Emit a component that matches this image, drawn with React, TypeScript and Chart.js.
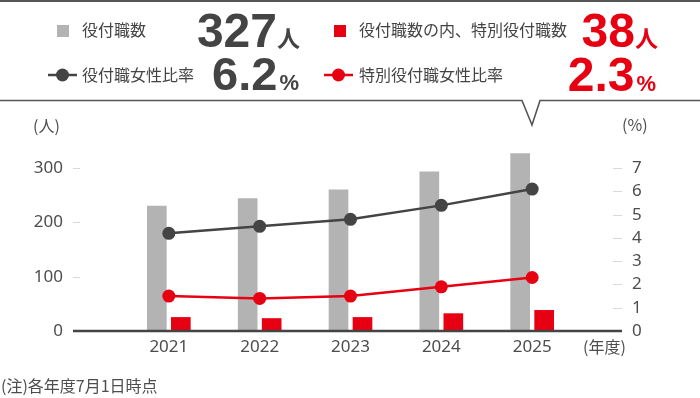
import React, { useEffect, useRef } from "react";
import { Chart, registerables } from "chart.js";

Chart.register(...registerables);

// ---- data ----
const years = ["2021", "2022", "2023", "2024", "2025"];
const officers = [230, 244, 260, 293, 327];
const specialOfficers = [25, 23, 25, 32, 38];
const femaleRatio = [4.2, 4.5, 4.8, 5.4, 6.1];
const specialFemaleRatio = [1.5, 1.4, 1.5, 1.9, 2.3];
const leftTicks = [0, 100, 200, 300];
const rightTicks = [0, 1, 2, 3, 4, 5, 6, 7];

const GRAY_BAR = "#b3b3b3";
const RED = "#e60012";
const DARK = "#444444";
const TEXT = "#4d4d4d";

const LEFT_MAX = 350;
const RIGHT_MAX = (LEFT_MAX * 7) / 300;

const pad = (arr: number[]) => [null, ...arr, null];

const decorPlugin = {
  id: "decor",
  afterDatasetsDraw(chart: any) {
    const ctx = chart.ctx;
    const yL = chart.scales.y;
    const yR = chart.scales.y2;
    ctx.save();
    ctx.strokeStyle = "#d9d9d9";
    ctx.lineWidth = 1;
    leftTicks.forEach((v) => {
      if (v === 0) return;
      const y = Math.round(yL.getPixelForValue(v)) + 0.5;
      ctx.beginPath();
      ctx.moveTo(73, y);
      ctx.lineTo(80, y);
      ctx.stroke();
    });
    rightTicks.forEach((v) => {
      if (v === 0) return;
      const y = Math.round(yR.getPixelForValue(v)) + 0.5;
      ctx.beginPath();
      ctx.moveTo(613, y);
      ctx.lineTo(622, y);
      ctx.stroke();
    });
    const y0 = yL.getPixelForValue(0);
    ctx.strokeStyle = DARK;
    ctx.lineWidth = 2.5;
    ctx.beginPath();
    ctx.moveTo(73, y0);
    ctx.lineTo(622, y0);
    ctx.stroke();
    ctx.restore();
  },
};

export default function App() {
  const ref = useRef<HTMLCanvasElement | null>(null);

  useEffect(() => {
    if (!ref.current) return;
    Chart.defaults.font.family = "'Noto Sans', 'Noto Sans CJK JP', sans-serif";
    const labels = ["", ...years, ""];
    const chart = new Chart(ref.current, {
      type: "bar",
      data: {
        labels,
        datasets: [
          {
            type: "line",
            label: "役付職女性比率",
            data: pad(femaleRatio),
            yAxisID: "y2",
            borderColor: DARK,
            backgroundColor: DARK,
            borderWidth: 2.5,
            pointRadius: 6.5,
            pointBackgroundColor: DARK,
            pointBorderWidth: 0,
            order: 0,
          } as any,
          {
            type: "line",
            label: "特別役付職女性比率",
            data: pad(specialFemaleRatio),
            yAxisID: "y2",
            borderColor: RED,
            backgroundColor: RED,
            borderWidth: 2.5,
            pointRadius: 6.5,
            pointBackgroundColor: RED,
            pointBorderWidth: 0,
            order: 0,
          } as any,
          {
            type: "bar",
            label: "役付職数",
            data: pad(officers),
            yAxisID: "y",
            backgroundColor: GRAY_BAR,
            barThickness: 24,
            maxBarThickness: 19,
            order: 1,
          } as any,
          {
            type: "bar",
            label: "役付職数の内、特別役付職数",
            data: pad(specialOfficers),
            yAxisID: "y",
            backgroundColor: RED,
            barThickness: 24,
            maxBarThickness: 19,
            order: 1,
          } as any,
        ],
      },
      options: {
        animation: false,
        responsive: false,
        maintainAspectRatio: false,
        events: [],
        layout: { padding: { top: 141, bottom: 38, left: 0, right: 0 } },
        plugins: {
          legend: { display: false },
          tooltip: { enabled: false },
          title: { display: false },
        },
        scales: {
          x: {
            type: "category",
            offset: false,
            grid: { display: false, drawTicks: false, offset: false },
            border: { display: false },
            ticks: {
              color: TEXT,
              font: { size: 17 },
              padding: 6,
              autoSkip: false,
              maxRotation: 0,
            },
            afterFit: (s: any) => {
              s.height = 29;
            },
          },
          y: {
            position: "left",
            min: 0,
            max: LEFT_MAX,
            grid: { display: false, drawTicks: false },
            border: { display: false },
            ticks: { color: TEXT, font: { size: 17 }, padding: 15 },
            afterBuildTicks: (s: any) => {
              s.ticks = leftTicks.map((v) => ({ value: v }));
            },
            afterFit: (s: any) => {
              s.width = 78;
            },
          },
          y2: {
            position: "right",
            min: 0,
            max: RIGHT_MAX,
            grid: { display: false, drawTicks: false },
            border: { display: false },
            ticks: { color: TEXT, font: { size: 17 }, padding: 9 },
            afterBuildTicks: (s: any) => {
              s.ticks = rightTicks.map((v) => ({ value: v }));
            },
            afterFit: (s: any) => {
              s.width = 77;
            },
          },
        },
      },
      plugins: [decorPlugin],
    } as any);
    return () => chart.destroy();
  }, []);

  const jp = "'Noto Sans CJK JP', 'Noto Sans', sans-serif";
  const num = "'Liberation Sans', Arial, sans-serif";

  return (
    <div style={{ position: "absolute", left: 0, top: 0, width: 700, height: 398, background: "#fff" }}>
      <canvas ref={ref} width={700} height={398} style={{ position: "absolute", left: 0, top: 0, width: 700, height: 398 }} />
      <svg width={700} height={398} style={{ position: "absolute", left: 0, top: 0, pointerEvents: "none" }}>
        <line x1={0} y1={1} x2={700} y2={1} stroke="#555" strokeWidth={2} />
        <polyline points="0,100.5 522,100.5 532,125 540,100.5 700,100.5" fill="none" stroke="#555" strokeWidth={1.6} />

        {/* row 1 */}
        <rect x={57} y={25} width={12} height={12} fill={GRAY_BAR} />
        <text x={82} y={36} fontFamily={jp} fontSize={16} fill={DARK}>役付職数</text>
        <text x={300} y={47} textAnchor="end" fill={DARK}>
          <tspan fontFamily={num} fontWeight={700} fontSize={48}>327</tspan>
          <tspan fontFamily={jp} fontWeight={700} fontSize={23}>人</tspan>
        </text>
        <rect x={334} y={25} width={12} height={12} fill={RED} />
        <text x={359} y={36} fontFamily={jp} fontSize={16} fill={DARK}>役付職数の内、特別役付職数</text>
        <text x={658} y={47} textAnchor="end" fill={RED}>
          <tspan fontFamily={num} fontWeight={700} fontSize={48}>38</tspan>
          <tspan fontFamily={jp} fontWeight={700} fontSize={23}>人</tspan>
        </text>

        {/* row 2 */}
        <line x1={48} y1={75} x2={77} y2={75} stroke={DARK} strokeWidth={2.5} />
        <circle cx={62.5} cy={75} r={6.5} fill={DARK} />
        <text x={82} y={81} fontFamily={jp} fontSize={16} fill={DARK}>役付職女性比率</text>
        <text x={299} y={90} textAnchor="end" fill={DARK}>
          <tspan fontFamily={num} fontWeight={700} fontSize={47}>6.2</tspan>
          <tspan dx={2} fontFamily={num} fontWeight={700} fontSize={22}>%</tspan>
        </text>
        <line x1={324} y1={75} x2={353} y2={75} stroke={RED} strokeWidth={2.5} />
        <circle cx={338.5} cy={75} r={6.5} fill={RED} />
        <text x={359} y={81} fontFamily={jp} fontSize={16} fill={DARK}>特別役付職女性比率</text>
        <text x={656} y={91} textAnchor="end" fill={RED}>
          <tspan fontFamily={num} fontWeight={700} fontSize={48}>2.3</tspan>
          <tspan dx={2} fontFamily={num} fontWeight={700} fontSize={22}>%</tspan>
        </text>

        {/* axis units */}
        <text x={33} y={132} fontFamily={jp} fontSize={16} fill={TEXT}>(人)</text>
        <text x={622} y={131} fontFamily={jp} fontSize={16} fill={TEXT}>(%)</text>
        <text x={583} y={353} fontFamily={jp} fontSize={16} fill={TEXT}>(年度)</text>

        {/* note */}
        <text x={1} y={392} fontFamily={jp} fontSize={16} fill={TEXT}>(注)各年度7月1日時点</text>
      </svg>
    </div>
  );
}
